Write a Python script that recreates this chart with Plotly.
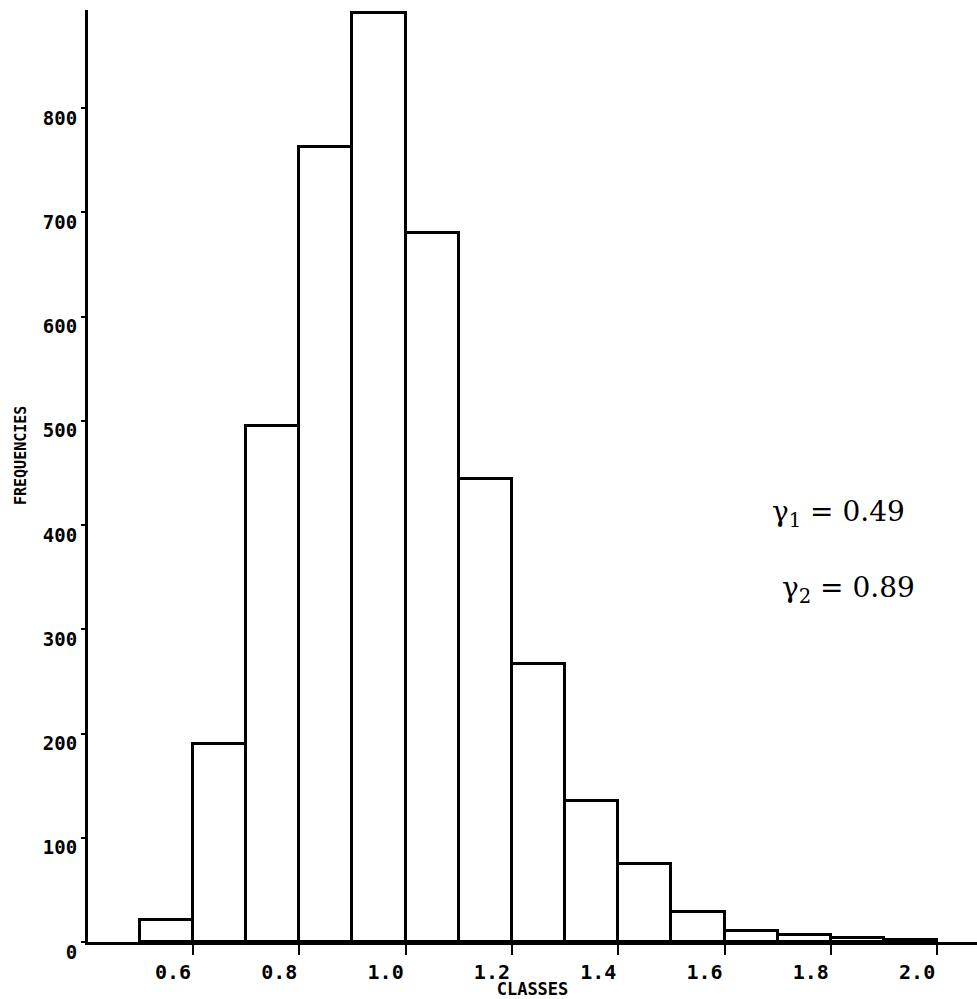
import plotly.graph_objects as go

# Histogram data (bin left edges, width 0.1)
bin_left = [0.5, 0.6, 0.7, 0.8, 0.9, 1.0, 1.1, 1.2, 1.3, 1.4, 1.5, 1.6, 1.7, 1.8, 1.9]
frequencies = [21, 190, 495, 763, 891, 680, 444, 267, 135, 75, 29, 11, 7, 4, 2]
bin_width = 0.1

x_ticks = [0.6, 0.8, 1.0, 1.2, 1.4, 1.6, 1.8, 2.0]
x_tick_text = ["0.6", "0.8", "1.0", "1.2", "1.4", "1.6", "1.8", "2.0"]
y_ticks = [0, 100, 200, 300, 400, 500, 600, 700, 800]
y_tick_text = ["0", "100", "200", "300", "400", "500", "600", "700", "800"]

centers = [b + bin_width / 2 for b in bin_left]

mono = "DejaVu Sans Mono"

fig = go.Figure()
fig.add_trace(go.Bar(
    x=centers, y=frequencies, width=[bin_width] * len(centers),
    marker=dict(color="white", line=dict(color="black", width=3)),
    showlegend=False,
))

fig.update_layout(
    width=977, height=999,
    margin=dict(l=88, r=0, t=10, b=57),
    plot_bgcolor="white", paper_bgcolor="white",
    bargap=0,
    xaxis=dict(
        range=[0.4024, 2.075], showgrid=False, zeroline=False,
        showline=True, linecolor="black", linewidth=3,
        tickmode="array", tickvals=x_ticks, ticktext=x_tick_text,
        ticks="outside", ticklen=10, tickwidth=2, tickcolor="black",
        ticklabelshift=-20, ticklabelstandoff=0,
        tickfont=dict(family=mono, size=20, color="black", weight="bold"),
        title=dict(text="CLASSES", font=dict(family=mono, size=17, color="black", weight="bold"), standoff=2),
    ),
    yaxis=dict(
        range=[0, 894], showgrid=False, zeroline=False,
        showline=True, linecolor="black", linewidth=3,
        tickmode="array", tickvals=y_ticks, ticktext=y_tick_text,
        ticks="outside", ticklen=4, tickwidth=2, tickcolor="black",
        ticklabelshift=10, ticklabelstandoff=0,
        tickfont=dict(family=mono, size=19, color="black", weight="bold"),
    ),
)

fig.add_annotation(x=-0.0754, y=0.5225, xref="paper", yref="paper",
                   text="FREQUENCIES", showarrow=False, textangle=-90,
                   font=dict(family=mono, size=15, color="black", weight="bold"),
                   xanchor="center", yanchor="middle")

fig.add_annotation(x=0.8437, y=0.460, xref="paper", yref="paper",
                   text="γ<sub>1</sub> = 0.49", showarrow=False,
                   font=dict(family="DejaVu Serif", size=28, color="black"),
                   xanchor="center", yanchor="middle")
fig.add_annotation(x=0.855, y=0.378, xref="paper", yref="paper",
                   text="γ<sub>2</sub> = 0.89", showarrow=False,
                   font=dict(family="DejaVu Serif", size=28, color="black"),
                   xanchor="center", yanchor="middle")

fig.write_html("out.html")
